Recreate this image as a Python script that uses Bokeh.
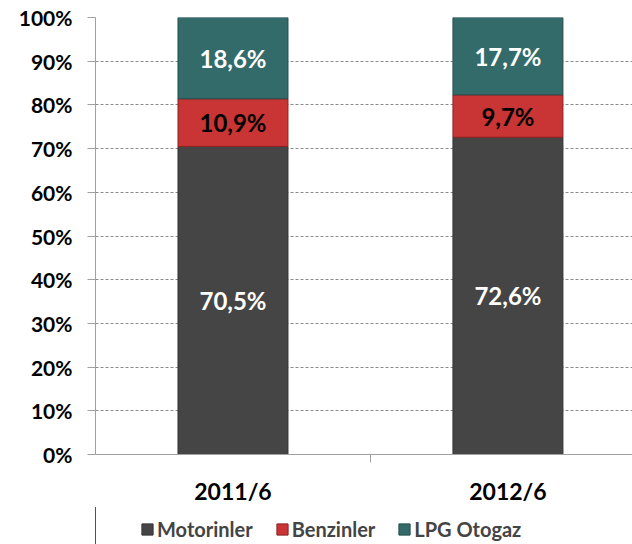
from bokeh.plotting import figure
from bokeh.layouts import column
from bokeh.models import ColumnDataSource, FixedTicker, Range1d, Legend, LegendItem
from bokeh.core.properties import value
from bokeh.embed import file_html
from bokeh.resources import INLINE

categories = ["2011/6", "2012/6"]
series = ["Motorinler", "Benzinler", "LPG Otogaz"]
motorinler = [70.5, 72.6]
benzinler = [10.9, 9.7]
lpg = [18.6, 17.7]
y_ticks = [0, 10, 20, 30, 40, 50, 60, 70, 80, 90, 100]

colors = ["#454545", "#C93434", "#336B6B"]
edge_colors = ["#333333", "#8e2222", "#244c4c"]
label_colors = ["white", "black", "white"]
FONT = "Lato"

xs = [i + 0.5 for i in range(len(categories))]
data = dict(x=xs, Motorinler=motorinler, Benzinler=benzinler)
data["LPG Otogaz"] = lpg
src = ColumnDataSource(data)

p = figure(width=632, height=507,
           min_border_left=95, min_border_right=0, min_border_top=17, min_border_bottom=48,
           x_range=Range1d(0, 1.953), y_range=Range1d(0, 100),
           output_backend="svg", toolbar_location=None)
p.outline_line_color = None

renderers = p.vbar_stack(series, x="x", width=0.4, source=src, color=colors,
                         line_color=edge_colors, line_width=1)

vals = [motorinler, benzinler, lpg]
for si, v in enumerate(vals):
    bottoms = [sum(vals[k][i] for k in range(si)) for i in range(len(categories))]
    mids = [b + vv / 2 for b, vv in zip(bottoms, v)]
    txt = [("%.1f%%" % vv).replace(".", ",") for vv in v]
    ls = ColumnDataSource(dict(x=xs, y=mids, t=txt))
    p.text(x="x", y="y", text="t", source=ls, text_align="center", text_baseline="middle",
           text_font=value(FONT), text_font_style="bold", text_font_size="24px",
           text_color=label_colors[si])

p.yaxis.ticker = FixedTicker(ticks=y_ticks)
p.yaxis.major_label_overrides = {t: "%d%%" % t for t in y_ticks}
p.yaxis.major_label_text_font = FONT
p.yaxis.major_label_text_font_style = "bold"
p.yaxis.major_label_text_font_size = "21px"
p.yaxis.major_label_text_color = "black"
p.yaxis.axis_line_color = "#a0a0a0"
p.yaxis.major_tick_line_color = "#a0a0a0"
p.yaxis.major_tick_out = 8
p.yaxis.major_tick_in = 0
p.yaxis.minor_tick_line_color = None
p.yaxis.major_label_standoff = 15

p.xaxis.ticker = FixedTicker(ticks=xs, minor_ticks=[1.0])
p.xaxis.major_label_overrides = {x: c for x, c in zip(xs, categories)}
p.xaxis.major_label_text_font = FONT
p.xaxis.major_label_text_font_style = "bold"
p.xaxis.major_label_text_font_size = "23px"
p.xaxis.major_label_text_color = "black"
p.xaxis.axis_line_color = "#a0a0a0"
p.xaxis.major_tick_line_color = None
p.xaxis.major_tick_out = 0
p.xaxis.major_tick_in = 0
p.xaxis.minor_tick_line_color = "#a0a0a0"
p.xaxis.minor_tick_out = 8
p.xaxis.minor_tick_in = 0
p.xaxis.major_label_standoff = 14

p.xgrid.grid_line_color = None
p.ygrid.ticker = FixedTicker(ticks=y_ticks)
p.ygrid.grid_line_color = "#8a8a8a"
p.ygrid.grid_line_dash = "3 2"
p.ygrid.grid_line_width = 1

# separate strip holding the legend (its bars lie outside its visible range)
p2 = figure(width=632, height=37, min_border=0, x_range=Range1d(10, 11), y_range=Range1d(0, 1),
            x_axis_type=None, y_axis_type=None, output_backend="svg", toolbar_location=None)
p2.outline_line_color = None
p2.grid.visible = False
leg_renderers = p2.vbar_stack(series, x="x", width=0.4, source=src, color=colors,
                              line_color=edge_colors, line_width=1)

legend = Legend(items=[LegendItem(label=s, renderers=[r]) for s, r in zip(series, leg_renderers)],
                orientation="horizontal", location=(45, 3),
                label_text_font=FONT, label_text_font_style="bold", label_text_font_size="20px",
                glyph_width=14, glyph_height=14, spacing=22, label_standoff=3,
                border_line_color=None, background_fill_alpha=0, margin=0, padding=4)
p2.add_layout(legend, "center")

layout = column(p, p2, spacing=0)
open("out.html", "w").write(file_html(layout, INLINE))
